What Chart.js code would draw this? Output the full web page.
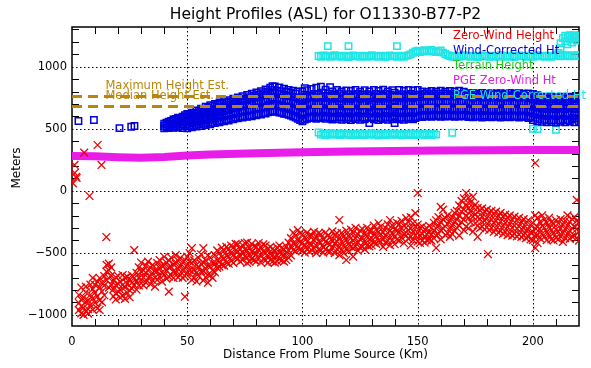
<!DOCTYPE html>
<html>
<head>
<meta charset="utf-8">
<script src="https://cdn.jsdelivr.net/npm/chart.js@4"></script>
<style>
  html, body { margin: 0; padding: 0; background: #fff; }
  canvas { display: block; }
</style>
</head>
<body>
<canvas id="plot" width="591" height="368"></canvas>
<script>
// Axis extents and major ticks (km from plume source, metres ASL)
const X_RANGE = [0, 220];
const Y_RANGE = [-1090, 1320];
const X_MAJOR = [0, 50, 100, 150, 200];
const Y_MAJOR = [-1000, -500, 0, 500, 1000];

const MAX_HEIGHT_EST = 760;
const MEDIAN_HEIGHT_EST = 680;

// Zero-wind height retrievals, one row per distance: [km, heights...]
const ZERO_WIND_COLS = [
  [0.4, 60], [1.1, 208], [1.2, 144], [1.8, 113], [2.0, 103], [5.3, 307], [7.6, -42],
  [11.1, 369], [12.8, 208], [14.9, -373],
  [3, -905, -962, -840], [4, -988, -878, -931, -780], [5, -942, -1000, -860],
  [6, -897, -971, -818, -773], [7, -955, -884, -990], [8, -838, -921, -757],
  [9, -702, -793, -869, -958], [10, -822, -758, -903], [11, -731, -852, -949],
  [12, -779, -703, -884, -961], [13, -812, -741, -898], [14, -688, -764, -842],
  [15, -597, -652, -721], [16, -641, -588, -703, -781], [17, -618, -684, -757],
  [18, -722, -793, -851], [19, -698, -762, -829, -876], [20, -751, -687, -812],
  [21, -733, -801, -862], [22, -679, -758, -843], [23, -702, -779, -871],
  [24, -748, -692, -822], [25, -718, -803, -858], [26, -681, -742, -788],
  [27, -478, -703, -761], [28, -662, -731, -798], [29, -618, -702, -763],
  [30, -578, -652, -719], [31, -641, -698, -762], [32, -602, -661, -738],
  [33, -571, -643, -701], [34, -619, -688, -752], [35, -598, -663, -721],
  [36, -642, -701, -773], [37, -583, -648, -719], [38, -558, -622, -691],
  [39, -603, -657, -732], [40, -532, -601, -678], [41, -579, -642, -708],
  [42, -561, -618, -692, -813], [43, -538, -612, -681], [44, -592, -648, -703],
  [45, -519, -588, -662], [46, -563, -629, -698], [47, -541, -603, -679],
  [48, -578, -641, -702], [49, -558, -622, -688, -854], [50, -531, -598, -662],
  [51, -502, -571, -640], [52, -463, -582, -651, -719], [53, -561, -638, -702],
  [54, -598, -662, -731], [55, -542, -618, -689], [56, -512, -588, -650],
  [57, -463, -579, -648, -722], [58, -562, -631, -698], [59, -521, -602, -679, -741],
  [60, -538, -612, -681], [61, -582, -641, -702], [62, -518, -592, -658],
  [63, -481, -558, -621], [64, -502, -571, -612], [65, -459, -532, -598],
  [66, -482, -548, -603], [67, -452, -521, -579], [68, -471, -532, -588],
  [69, -441, -502, -562], [70, -458, -519, -581], [71, -428, -482, -541],
  [72, -432, -491, -548], [73, -468, -522, -571], [74, -439, -498, -558],
  [75, -421, -472, -529], [76, -418, -481, -538, -582], [77, -461, -519, -572],
  [78, -428, -492, -551], [79, -448, -503, -559], [80, -452, -508, -568],
  [81, -421, -479, -542], [82, -458, -522, -578], [83, -432, -488, -548],
  [84, -441, -502, -561], [85, -468, -528, -581], [86, -452, -511, -558],
  [87, -471, -519, -572], [88, -482, -531, -579], [89, -458, -522, -568],
  [90, -441, -498, -552], [91, -462, -511, -561], [92, -472, -518, -571],
  [93, -448, -502, -558], [94, -418, -481, -541], [95, -382, -448, -521],
  [96, -338, -422, -479], [97, -362, -431, -488], [98, -318, -401, -462],
  [99, -341, -412, -472], [100, -352, -418, -481], [101, -378, -442, -498],
  [102, -338, -411, -469], [103, -362, -428, -491], [104, -359, -432, -478],
  [105, -331, -398, -462], [106, -372, -441, -502], [107, -341, -409, -472],
  [108, -352, -419, -481], [109, -388, -452, -498], [110, -338, -412, -471],
  [111, -361, -422, -488], [112, -372, -431, -491], [113, -328, -402, -459],
  [114, -358, -428, -502], [115, -342, -408, -471], [116, -236, -381, -452, -518],
  [117, -339, -411, -479], [118, -368, -441, -502], [119, -322, -398, -468, -558],
  [120, -361, -428, -489], [121, -312, -382, -451], [122, -338, -402, -461, -531],
  [123, -298, -381, -448], [124, -352, -418, -482], [125, -322, -392, -458],
  [126, -308, -382, -452], [127, -341, -408, -472], [128, -298, -368, -441],
  [129, -328, -391, -448], [130, -318, -381, -439], [131, -281, -352, -418],
  [132, -312, -368, -428], [133, -262, -331, -402], [134, -288, -352, -411],
  [135, -332, -388, -452], [136, -298, -362, -418], [137, -271, -339, -401],
  [138, -236, -322, -381, -438], [139, -279, -342, -399], [140, -312, -368, -431],
  [141, -258, -322, -392], [142, -268, -331, -402], [143, -242, -302, -378],
  [144, -282, -348, -421], [145, -221, -298, -362], [146, -252, -318, -388],
  [147, -212, -302, -368, -441], [148, -262, -328, -398], [149, -180, -288, -361],
  [150, -18, -272, -338, -409], [151, -298, -362, -421], [152, -288, -348, -402],
  [153, -312, -368, -418], [154, -302, -352, -398], [155, -282, -338, -392],
  [156, -298, -351, -402], [157, -258, -322, -381], [158, -238, -302, -361, -461],
  [159, -212, -281, -348], [160, -130, -252, -318, -392], [161, -152, -228, -302],
  [162, -221, -288, -358], [163, -198, -268, -342], [164, -238, -302, -372],
  [165, -212, -281, -348], [166, -178, -252, -322], [167, -162, -231, -298],
  [168, -118, -202, -281, -362], [169, -82, -168, -252], [170, -62, -148, -232, -318],
  [171, -18, -112, -198, -288], [172, -58, -142, -221, -302], [173, -92, -168, -252],
  [174, -48, -132, -208, -328], [175, -112, -188, -262], [176, -138, -212, -281, -371],
  [177, -158, -228, -301], [178, -142, -208, -288], [179, -168, -241, -312],
  [180, -152, -218, -292], [180.5, -510], [181, -178, -252, -318], [182, -162, -232, -298],
  [183, -188, -258, -332], [184, -168, -242, -308], [185, -202, -268, -338],
  [186, -178, -248, -322], [187, -208, -282, -348], [188, -192, -258, -331],
  [189, -218, -292, -358], [190, -198, -268, -342], [191, -232, -298, -361],
  [192, -208, -282, -348], [193, -238, -302, -368], [194, -218, -288, -352],
  [195, -252, -308, -372], [196, -228, -302, -358], [197, -262, -318, -382],
  [198, -238, -312, -368], [199, -278, -338, -392], [200, -258, -331, -398],
  [201, 224, -198, -302, -368, -461], [202, -218, -292, -358, -421], [203, -252, -308, -382],
  [204, -198, -282, -348], [205, -232, -298, -371], [206, -258, -332, -398],
  [207, -218, -291, -358], [208, -252, -318, -392], [209, -268, -342, -401],
  [210, -238, -312, -378], [211, -262, -328, -392], [212, -228, -302, -368],
  [213, -272, -338, -412], [214, -242, -308, -382], [215, -198, -282, -348],
  [216, -252, -322, -388], [217, -228, -302, -368], [218, -212, -288, -362],
  [219, -74, -242, -308, -381], [220, -262, -331, -402]
];

// Wind-corrected height retrievals: [km, heights...]
const WIND_CORR_COLS = [
  [2.8, 562], [9.5, 570], [20.6, 505], [25.7, 516], [27.1, 522],
  [40, 503, 522, 540], [41, 510, 533, 548], [42, 505, 528, 556], [43, 515, 540, 562],
  [44, 508, 532, 556, 574], [45, 518, 548, 580], [46, 510, 540, 566, 590], [47, 522, 552, 585],
  [48, 506, 536, 570, 598], [49, 526, 558, 592, 610], [50, 504, 532, 565, 598, 620],
  [51, 520, 552, 588, 615], [52, 512, 546, 578, 608, 630], [53, 528, 562, 598, 628],
  [54, 518, 550, 586, 622, 648], [55, 536, 572, 608, 642], [56, 522, 556, 592, 632, 662],
  [57, 540, 578, 618, 652], [58, 530, 566, 602, 642, 678], [59, 548, 586, 626, 668],
  [60, 536, 572, 612, 652, 690], [61, 552, 596, 640, 682], [62, 545, 582, 622, 662, 700],
  [63, 560, 602, 646, 692], [64, 552, 592, 632, 674, 712], [65, 566, 610, 656, 702],
  [66, 560, 600, 642, 682, 722], [67, 572, 616, 662, 708], [68, 565, 606, 652, 692, 730],
  [69, 580, 626, 670, 716], [70, 575, 616, 662, 702, 742], [71, 590, 634, 678, 722],
  [72, 584, 626, 670, 712, 752], [73, 596, 642, 688, 736], [74, 590, 634, 680, 722, 762],
  [75, 600, 648, 696, 744], [76, 596, 642, 690, 732, 772], [77, 606, 656, 706, 754],
  [78, 600, 650, 698, 742, 782], [79, 610, 662, 714, 766], [80, 608, 656, 704, 752, 792],
  [81, 618, 670, 722, 776], [82, 614, 664, 712, 760, 802], [83, 626, 678, 730, 786],
  [84, 622, 672, 722, 772, 816], [85, 632, 686, 742, 800], [86, 636, 682, 730, 782, 830],
  [87, 640, 696, 752, 812, 842], [88, 642, 690, 738, 792, 840], [89, 636, 692, 750, 806],
  [90, 630, 680, 728, 782, 832], [91, 628, 686, 742, 802], [92, 620, 672, 722, 772, 822],
  [93, 618, 676, 732, 796], [94, 612, 662, 714, 766, 812], [95, 606, 666, 724, 790],
  [96, 598, 654, 706, 756, 806], [97, 590, 650, 712, 782], [98, 580, 636, 692, 746, 800],
  [99, 570, 630, 690, 752], [100, 560, 616, 674, 732, 800], [101, 574, 632, 692, 760, 826],
  [102, 580, 636, 692, 748, 810], [103, 590, 648, 706, 768], [104, 585, 642, 700, 756, 820],
  [105, 594, 652, 712, 780], [106, 580, 640, 696, 754, 830], [107, 590, 650, 710, 776],
  [108, 585, 642, 702, 762, 839], [109, 596, 656, 716, 790], [110, 580, 636, 696, 756, 815],
  [111, 592, 652, 712, 780], [112, 584, 642, 702, 762, 835], [113, 574, 632, 690, 752, 800],
  [114, 590, 648, 708, 772], [115, 578, 635, 695, 752, 812], [116, 595, 655, 718, 785],
  [117, 572, 630, 690, 748, 800], [118, 588, 645, 705, 770], [119, 575, 632, 692, 755, 808],
  [120, 592, 652, 712, 778], [121, 570, 628, 688, 748, 805], [122, 585, 645, 708, 772],
  [123, 578, 636, 698, 758, 812], [124, 595, 655, 715, 780], [125, 572, 630, 690, 750, 798],
  [126, 588, 648, 710, 775], [127, 575, 635, 695, 758, 810], [128, 590, 650, 712, 778],
  [129, 545, 620, 682, 745, 800], [130, 585, 645, 705, 770], [131, 575, 635, 695, 755, 812],
  [132, 592, 652, 715, 780], [133, 570, 630, 690, 750, 805], [134, 586, 646, 708, 772],
  [135, 578, 638, 698, 760, 815], [136, 594, 655, 715, 782], [137, 572, 632, 692, 752, 800],
  [138, 588, 648, 710, 775], [139, 576, 636, 698, 760, 810], [140, 545, 605, 668, 730, 790],
  [141, 585, 645, 705, 770], [142, 575, 635, 695, 758, 812], [143, 590, 650, 712, 778],
  [144, 572, 632, 692, 752, 805], [145, 588, 648, 708, 772], [146, 578, 638, 700, 762, 812],
  [147, 592, 652, 715, 780], [148, 575, 635, 695, 755, 808], [149, 585, 645, 708, 772],
  [150, 595, 650, 705, 760, 812], [151, 600, 658, 716, 776], [152, 594, 650, 706, 760, 800],
  [153, 606, 662, 720, 782], [154, 598, 654, 710, 766, 796], [155, 604, 660, 718, 778],
  [156, 596, 652, 708, 762, 804], [157, 608, 664, 722, 784], [158, 600, 656, 712, 766, 798],
  [159, 605, 662, 720, 780], [160, 596, 652, 708, 764, 806], [161, 610, 666, 724, 784],
  [162, 598, 654, 710, 766, 798], [163, 606, 662, 720, 780], [164, 600, 656, 712, 768, 804],
  [165, 608, 664, 722, 782], [166, 596, 652, 708, 764, 800], [167, 604, 660, 718, 778],
  [168, 598, 654, 710, 766, 806], [169, 606, 662, 720, 780], [170, 600, 656, 712, 768, 798],
  [171, 608, 664, 722, 782], [172, 594, 650, 706, 762, 786], [173, 600, 656, 714, 772],
  [174, 592, 646, 700, 754, 786], [175, 604, 660, 716, 774], [176, 596, 650, 704, 756, 784],
  [177, 602, 658, 714, 770], [178, 590, 646, 700, 754, 788], [179, 606, 660, 716, 772],
  [180, 594, 648, 702, 756, 782], [181, 600, 656, 712, 768], [182, 592, 646, 700, 754, 786],
  [183, 604, 658, 714, 770], [184, 596, 650, 704, 758, 784], [185, 600, 656, 712, 768],
  [186, 590, 644, 698, 752, 786], [187, 606, 660, 716, 772], [188, 594, 648, 702, 756, 782],
  [189, 600, 656, 712, 768], [190, 592, 646, 700, 754, 788], [191, 604, 658, 714, 770],
  [192, 596, 650, 704, 758, 784], [193, 600, 656, 712, 768], [194, 590, 644, 698, 752, 786],
  [195, 602, 658, 714, 770], [196, 594, 648, 702, 756, 782], [197, 600, 656, 712, 766],
  [198, 586, 640, 696, 750, 784], [199, 596, 652, 708, 764], [200, 570, 626, 684, 740, 780],
  [201, 588, 644, 700, 756], [202, 560, 618, 676, 732, 770], [203, 576, 634, 692, 750],
  [204, 556, 612, 668, 722, 758], [205, 572, 630, 688, 744], [206, 552, 608, 664, 718, 756],
  [207, 568, 626, 684, 740], [208, 554, 610, 666, 720, 758], [209, 570, 628, 686, 742],
  [210, 550, 606, 662, 716, 754], [211, 566, 624, 682, 738], [212, 556, 612, 668, 722, 758],
  [213, 572, 630, 688, 744], [214, 552, 608, 664, 718, 756], [215, 568, 626, 684, 740],
  [216, 558, 614, 670, 724, 758], [217, 574, 632, 690, 746, 584], [218, 552, 608, 664, 718, 754],
  [219, 586, 630, 688, 742], [220, 556, 612, 668, 722, 756]
];

// PGE wind-corrected height: [km, height]
const PGE_WIND_CORR = [
  [107, 1086], [108, 1080], [109, 1090], [110, 1083], [111, 1088], [111, 1166], [112, 1079],
  [113, 1086], [114, 1092], [115, 1082], [116, 1087], [117, 1080], [118, 1089], [119, 1084],
  [120, 1078], [120, 1166], [121, 1087], [122, 1091], [123, 1083], [124, 1086], [125, 1080],
  [126, 1089], [127, 1084], [128, 1079], [129, 1087], [130, 1092], [131, 1082], [132, 1086],
  [133, 1080], [134, 1089], [135, 1084], [136, 1078], [137, 1087], [138, 1091], [139, 1083],
  [140, 1086], [141, 1080], [141, 1166], [142, 1089], [143, 1084], [144, 1079], [145, 1087],
  [146, 1092], [147, 1100], [148, 1112], [149, 1124], [150, 1130], [151, 1118], [152, 1127],
  [153, 1133], [154, 1121], [155, 1128], [156, 1135], [157, 1122], [158, 1117], [159, 1128],
  [160, 1131], [161, 1114], [162, 1102], [163, 1092], [164, 1086], [165, 1080], [166, 1089],
  [167, 1084], [168, 1079], [169, 1087], [170, 1092], [171, 1083], [172, 1086], [173, 1080],
  [174, 1089], [175, 1084], [176, 1078], [177, 1087], [178, 1091], [179, 1083], [180, 1086],
  [181, 1080], [182, 1089], [183, 1084], [184, 1079], [185, 1087], [186, 1092], [187, 1082],
  [188, 1086], [189, 1080], [190, 1089], [191, 1084], [192, 1078], [193, 1087], [194, 1091],
  [195, 1083], [196, 1086], [197, 1080], [198, 1089], [199, 1084], [200, 1079], [201, 1087],
  [202, 1092], [203, 1083], [204, 1086], [205, 1080], [206, 1089], [207, 1084], [208, 1079],
  [209, 1087], [210, 1092], [211, 1088], [211, 1110], [212, 1084], [212, 1150], [212, 1190],
  [213, 1090], [213, 1230], [214, 1086], [214, 1250], [214, 1205], [215, 1092], [215, 1240],
  [215, 1180], [216, 1084], [216, 1255], [216, 1220], [217, 1090], [217, 1245], [217, 1195],
  [218, 1086], [218, 1255], [218, 1230], [219, 1092], [219, 1240], [219, 1210], [220, 1088],
  [220, 1250], [220, 1225],
  [107, 470], [108, 452], [109, 461], [110, 447], [111, 458], [112, 465], [113, 450],
  [114, 457], [115, 462], [116, 448], [117, 455], [118, 463], [119, 451], [120, 458],
  [121, 446], [122, 460], [123, 454], [124, 449], [125, 462], [126, 456], [127, 447],
  [128, 459], [129, 452], [130, 464], [131, 450], [132, 457], [133, 445], [134, 460],
  [135, 453], [136, 448], [137, 461], [138, 455], [139, 450], [140, 463], [141, 451],
  [142, 457], [143, 446], [144, 459], [145, 454], [146, 449], [147, 462], [148, 456],
  [149, 448], [150, 460], [151, 452], [152, 458], [153, 447], [154, 461], [155, 454],
  [156, 449], [157, 459], [158, 453], [165, 468], [200, 500], [202, 498], [210, 492]
];

// PGE zero-wind height: [km, height]
const PGE_ZERO_WIND = [
  [0, 280], [10, 278], [20, 270], [30, 266], [40, 272], [50, 285], [60, 292], [80, 302],
  [100, 310], [120, 316], [140, 320], [160, 324], [180, 326], [200, 328], [220, 328]
];

const LEGEND = [
  ["Zero-Wind Height", "#e80000"],
  ["Wind-Corrected Ht", "#0000d8"],
  ["Terrain Height", "#22c822"],
  ["PGE Zero-Wind Ht", "#e020e0"],
  ["PGE Wind-Corrected Ht", "#20e0e0"]
];

const GOLD = "#b8860b";
const FONT = "DejaVu Sans";

function colsToPoints(cols){
  const pts = [];
  cols.forEach(([x, ...ys]) => ys.forEach(y => pts.push({ x, y })));
  return pts;
}
const pairs = arr => arr.map(([x, y]) => ({ x, y }));

// IDL-style frame: dotted grid at majors, short inward minor ticks, labels on top
const idlFrame = {
  id: "idlFrame",
  beforeDatasetsDraw(chart){
    const { ctx, chartArea: a, scales: { x, y } } = chart;
    ctx.save();
    ctx.strokeStyle = "#000";
    ctx.lineWidth = 1;
    ctx.setLineDash([1.5, 2.5]);
    ctx.beginPath();
    X_MAJOR.forEach(v => {
      if (v <= X_RANGE[0]) return;
      const p = Math.round(x.getPixelForValue(v)) + 0.5;
      ctx.moveTo(p, a.top); ctx.lineTo(p, a.bottom);
    });
    Y_MAJOR.forEach(v => {
      const p = Math.round(y.getPixelForValue(v)) + 0.5;
      ctx.moveTo(a.left, p); ctx.lineTo(a.right, p);
    });
    ctx.stroke();
    ctx.setLineDash([]);
    ctx.beginPath();
    for (let v = 10; v < X_RANGE[1]; v += 10) {
      if (v % 50 === 0) continue;
      const p = Math.round(x.getPixelForValue(v)) + 0.5;
      ctx.moveTo(p, a.bottom); ctx.lineTo(p, a.bottom - 7);
      ctx.moveTo(p, a.top); ctx.lineTo(p, a.top + 7);
    }
    for (let v = -1000; v < Y_RANGE[1]; v += 100) {
      if (v % 500 === 0) continue;
      const p = Math.round(y.getPixelForValue(v)) + 0.5;
      ctx.moveTo(a.left, p); ctx.lineTo(a.left + 7, p);
      ctx.moveTo(a.right, p); ctx.lineTo(a.right - 7, p);
    }
    ctx.stroke();
    ctx.lineWidth = 1.5;
    ctx.strokeRect(a.left, a.top, a.right - a.left, a.bottom - a.top);
    ctx.restore();
  },
  afterDraw(chart){
    const { ctx, chartArea: a, scales: { x, y } } = chart;
    ctx.save();
    ctx.textBaseline = "middle";
    ctx.fillStyle = "#000";
    ctx.textAlign = "center";
    ctx.font = `15.5px "${FONT}"`;
    ctx.fillText("Height Profiles (ASL) for O11330-B77-P2", (a.left + a.right) / 2, 15);
    ctx.font = `12px "${FONT}"`;
    ctx.fillText("Distance From Plume Source (Km)", (a.left + a.right) / 2, 355);
    ctx.save();
    ctx.translate(17, 168);
    ctx.rotate(-Math.PI / 2);
    ctx.fillText("Meters", 0, 0);
    ctx.restore();

    ctx.textAlign = "left";
    ctx.font = `11.5px "${FONT}"`;
    ctx.fillStyle = GOLD;
    const lx = x.getPixelForValue(14.5);
    ctx.fillText("Maximum Height Est.", lx, y.getPixelForValue(MAX_HEIGHT_EST) - 10.5);
    ctx.fillText("Median Height Est.", lx, y.getPixelForValue(MEDIAN_HEIGHT_EST) - 10.5);

    const legendY = [36.5, 51.5, 66, 81, 96.5];
    LEGEND.forEach(([label, color], i) => {
      ctx.fillStyle = color;
      ctx.fillText(label, 453, legendY[i]);
    });
    ctx.restore();
  }
};

const tickFont = { family: FONT, size: 11.5 };

new Chart(document.getElementById("plot"), {
  type: "scatter",
  data: {
    datasets: [
      {
        label: "Maximum Height Est.",
        data: pairs([[X_RANGE[0], MAX_HEIGHT_EST], [X_RANGE[1], MAX_HEIGHT_EST]]),
        showLine: true, pointRadius: 0, borderColor: GOLD, borderWidth: 3,
        borderDash: [10, 6], order: 0
      },
      {
        label: "Median Height Est.",
        data: pairs([[X_RANGE[0], MEDIAN_HEIGHT_EST], [X_RANGE[1], MEDIAN_HEIGHT_EST]]),
        showLine: true, pointRadius: 0, borderColor: GOLD, borderWidth: 3,
        borderDash: [10, 6], order: 0
      },
      {
        label: "Zero-Wind Height",
        data: colsToPoints(ZERO_WIND_COLS),
        pointStyle: "crossRot", pointRadius: 5.5, borderWidth: 1.3,
        borderColor: "#f00000", backgroundColor: "#f00000", order: 1
      },
      {
        label: "Wind-Corrected Ht",
        data: colsToPoints(WIND_CORR_COLS),
        pointStyle: "rect", pointRadius: 4.5, borderWidth: 1.5,
        borderColor: "#0000e0", backgroundColor: "rgba(0,0,0,0)", order: 2
      },
      {
        label: "PGE Wind-Corrected Ht",
        data: pairs(PGE_WIND_CORR),
        pointStyle: "rect", pointRadius: 4.5, borderWidth: 1.5,
        borderColor: "#20e6e6", backgroundColor: "rgba(0,0,0,0)", order: 3
      },
      {
        label: "PGE Zero-Wind Ht",
        data: pairs(PGE_ZERO_WIND),
        showLine: true, pointRadius: 0, borderColor: "#e81ee8", borderWidth: 8,
        borderCapStyle: "butt", order: 4
      }
    ]
  },
  options: {
    responsive: false,
    animation: false,
    devicePixelRatio: 1,
    events: [],
    layout: { padding: { top: 27, right: 12, left: 0, bottom: 0 } },
    plugins: { legend: { display: false }, tooltip: { enabled: false } },
    scales: {
      x: {
        type: "linear", min: X_RANGE[0], max: X_RANGE[1],
        grid: { display: false }, border: { display: false },
        afterFit: s => { s.height = 42; },
        afterBuildTicks: s => { s.ticks = X_MAJOR.map(value => ({ value })); },
        ticks: {
          autoSkip: false, maxRotation: 0, padding: 1, color: "#000", font: tickFont,
          callback: v => String(v)
        }
      },
      y: {
        type: "linear", min: Y_RANGE[0], max: Y_RANGE[1],
        grid: { display: false, drawTicks: false }, border: { display: false },
        afterFit: s => { s.width = 72; },
        afterBuildTicks: s => { s.ticks = Y_MAJOR.map(value => ({ value })); },
        ticks: {
          autoSkip: false, padding: 5, color: "#000", font: tickFont,
          callback: v => v < 0 ? "\u2212" + (-v) : String(v)
        }
      }
    }
  },
  plugins: [idlFrame]
});
</script>
</body>
</html>
